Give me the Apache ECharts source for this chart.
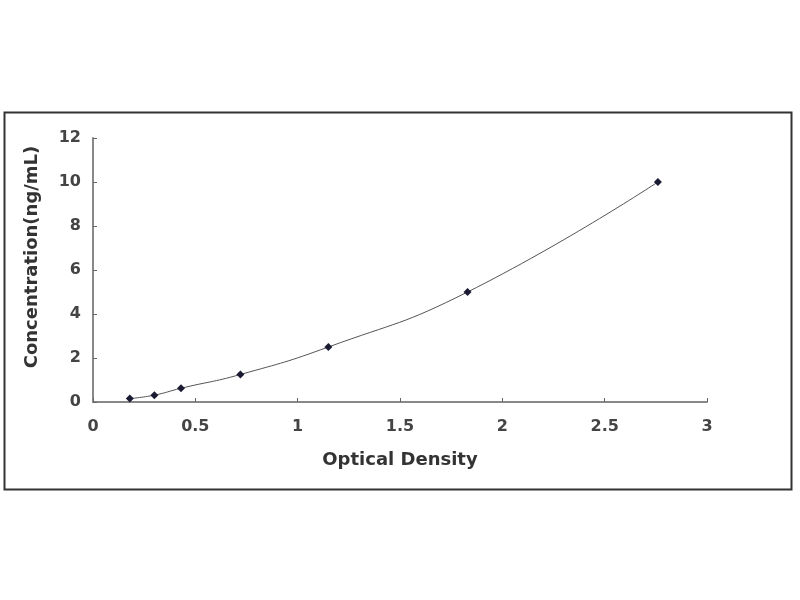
<!DOCTYPE html>
<html>
<head>
<meta charset="utf-8">
<script src="https://cdn.jsdelivr.net/npm/echarts@6/dist/echarts.min.js"></script>
<style>
  html, body { margin: 0; padding: 0; background: #fff; }
  #chart { width: 800px; height: 600px; }
</style>
</head>
<body>
<div id="chart"></div>
<script>
// standard curve points
const opticalDensity = [0.18, 0.30, 0.43, 0.72, 1.15, 1.83, 2.76]
const concentration = [0.156, 0.312, 0.625, 1.25, 2.5, 5, 10]

const chart = echarts.init(document.querySelector('#chart'))
const points = opticalDensity.map((od, i) => [od, concentration[i]])

const axisLabel = {
  color: '#444',
  fontFamily: 'DejaVu Sans, Verdana, sans-serif',
  fontWeight: 'bold',
  fontSize: 16
}
const axisName = {
  color: '#333',
  fontFamily: 'DejaVu Sans, Verdana, sans-serif',
  fontWeight: 'bold',
  fontSize: 18
}

chart.setOption({
  animation: false,
  backgroundColor: '#fff',
  graphic: [{
    type: 'rect',
    left: 2,
    top: 110,
    shape: { width: 787, height: 377 },
    style: { fill: 'none', stroke: '#333', lineWidth: 2 },
    z: -1
  }],
  grid: { left: 93, right: 93, top: 138, bottom: 198 },
  xAxis: {
    type: 'value',
    min: 0,
    max: 3,
    interval: 0.5,
    name: 'Optical Density',
    nameLocation: 'middle',
    nameGap: 49,
    nameTextStyle: axisName,
    axisLine: { lineStyle: { color: '#888', width: 2 } },
    axisTick: { inside: true, length: 4, lineStyle: { color: '#666' } },
    axisLabel: Object.assign({ margin: 17 }, axisLabel),
    splitLine: { show: false }
  },
  yAxis: {
    type: 'value',
    min: 0,
    max: 12,
    interval: 2,
    name: 'Concentration(ng/mL)',
    nameLocation: 'middle',
    nameGap: 52,
    nameRotate: 90,
    nameTextStyle: Object.assign({ padding: [0, 0, 0, 26] }, axisName),
    axisLine: { show: true, lineStyle: { color: '#888', width: 2 } },
    axisTick: { show: true, inside: true, length: 4, lineStyle: { color: '#666' } },
    axisLabel: Object.assign({ margin: 12 }, axisLabel),
    splitLine: { show: false }
  },
  series: [{
    type: 'line',
    data: points,
    smooth: true,
    symbol: 'diamond',
    symbolSize: 8,
    itemStyle: { color: '#1a1a33' },
    lineStyle: { color: '#555', width: 1 }
  }]
})
</script>
</body>
</html>
